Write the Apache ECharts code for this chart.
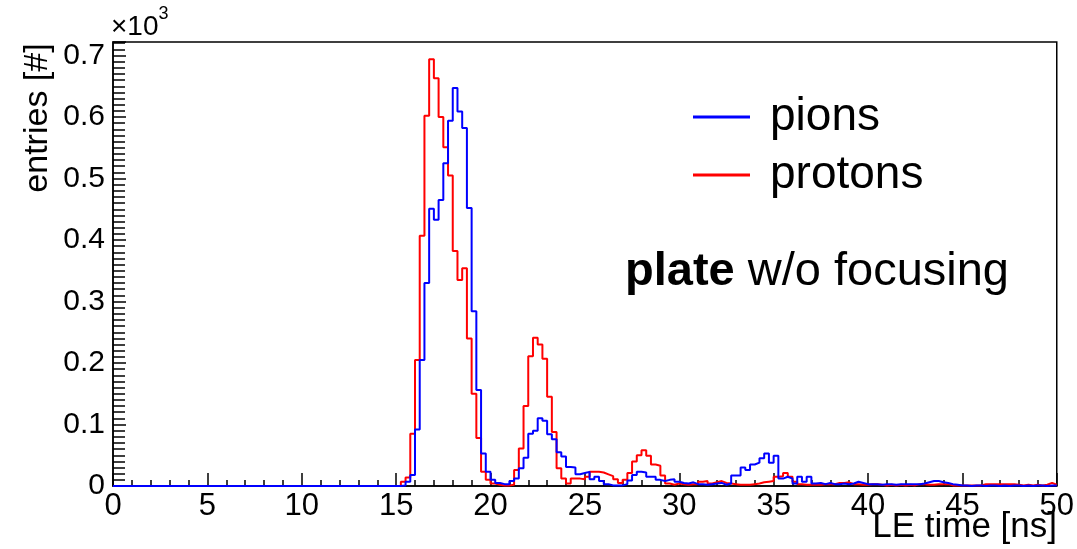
<!DOCTYPE html>
<html>
<head>
<meta charset="utf-8">
<script src="https://cdn.jsdelivr.net/npm/echarts@6/dist/echarts.min.js"></script>
<style>
html,body{margin:0;padding:0;background:#fff;}
#chart{width:1077px;height:549px;}
</style>
</head>
<body>
<div id="chart"></div>
<script>
// histogram binning: 200 bins of 0.25 ns from 0 to 50 ns
const binWidth = 0.25;
const xMin = 0;
const xMax = 50;
const yMax = 722;
const seriesNames = ['pions', 'protons'];
const xTickLabels = ['0','5','10','15','20','25','30','35','40','45','50'];
const yTickLabels = ['0','0.1','0.2','0.3','0.4','0.5','0.6','0.7'];

// entries per bin (pions)
const pions = [
  0,0,0,0,0,0,0,0,0,0,0,0,0,0,0,0,0,0,0,0,
  0,0,0,0,0,0,0,0,0,0,0,0,0,0,0,0,0,0,0,0,
  0,0,0,0,0,0,0,0,0,0,0,0,0,0,0,0,0,0,0,0,
  0,1,7,18,92,205,330,451,433,465,525,594,647,609,582,452,284,156,53,23,
  10,5,3,3,8,12,29,46,85,90,110,106,84,76,55,48,31,30,19,21,
  23,11,15,8,3,1,1,1,3,9,18,23,22,15,15,10,8,10,11,7,
  5,4,6,3,3,2,3,4,5,2,4,17,17,30,26,35,38,45,53,38,
  49,12,15,12,4,15,7,15,4,5,3,5,3,3,4,3,4,7,5,3,
  3,3,2,3,3,2,3,3,3,3,3,4,6,8,8,6,5,3,2,1,
  1,0,1,1,0,1,1,0,1,0,1,1,0,1,0,1,1,0,1,1
];
// entries per bin (protons)
const protons = [
  0,0,0,0,0,0,0,0,0,0,0,0,0,0,0,0,0,0,0,0,
  0,0,0,0,0,0,0,0,0,0,0,0,0,0,0,0,0,0,0,0,
  0,0,0,0,0,0,0,0,0,0,0,0,0,0,0,0,0,0,0,0,
  0,7,14,85,205,407,602,694,663,600,551,505,382,335,354,240,150,78,23,10,
  4,2,1,1,2,26,61,130,211,241,230,207,145,88,29,12,4,12,12,11,
  15,23,23,22,19,16,11,5,10,21,40,50,58,49,35,33,17,4,2,4,
  3,2,3,3,7,8,4,6,8,5,4,3,2,2,2,3,4,6,7,8,
  15,16,21,15,7,3,2,2,2,2,3,3,3,5,5,6,3,3,2,2,
  3,3,2,1,2,1,2,1,2,1,3,3,2,2,3,3,3,1,1,1,
  1,1,1,1,3,3,3,3,3,3,3,2,1,2,1,2,1,2,5,2
];

function toSteps(vals) {
  const pts = vals.map((v, i) => [xMin + i * binWidth, v]);
  pts.push([xMax, vals[vals.length - 1]]);
  return pts;
}

const FONT = 'Liberation Sans';
const chart = echarts.init(document.getElementById('chart'), null, {renderer: 'canvas'});
chart.setOption({
  animation: false,
  backgroundColor: '#fff',
  grid: {left: 113, right: 20, top: 42, bottom: 63, show: true, borderColor: '#000', borderWidth: 1.5, backgroundColor: 'transparent'},
  xAxis: {
    type: 'value', min: xMin, max: xMax, interval: 5,
    axisLine: {show: true, onZero: false, lineStyle: {color: '#000', width: 1.5}},
    axisTick: {show: true, inside: true, length: 13, lineStyle: {color: '#000', width: 1.5}},
    minorTick: {show: true, splitNumber: 5, length: 6, lineStyle: {color: '#000', width: 1.5}},
    splitLine: {show: false},
    axisLabel: {margin: 5, color: '#000', fontFamily: FONT, fontSize: 31,
      formatter: v => xTickLabels[Math.round(v / 5)] ?? ''}
  },
  yAxis: {
    type: 'value', min: 0, max: yMax, interval: 100,
    axisLine: {show: true, lineStyle: {color: '#000', width: 1.5}},
    axisTick: {show: true, inside: true, length: 13, lineStyle: {color: '#000', width: 1.5}},
    minorTick: {show: true, splitNumber: 10, length: 12, lineStyle: {color: '#000', width: 1.5}},
    splitLine: {show: false},
    axisLabel: {margin: 8, color: '#000', fontFamily: FONT, fontSize: 30,
      formatter: v => (v % 100 === 0 && v / 100 < yTickLabels.length) ? yTickLabels[v / 100] : ''}
  },
  legend: {
    data: seriesNames, orient: 'vertical', left: 688, top: 89,
    icon: 'rect', itemWidth: 57, itemHeight: 3, itemGap: 12,
    textStyle: {fontFamily: FONT, fontSize: 46, lineHeight: 46, color: '#000', padding: [0,0,0,15]}
  },
  graphic: [
    {type: 'text', right: 20, top: 510, style: {text: 'LE time [ns]', font: '35px "Liberation Sans"', fill: '#000'}},
    {type: 'text', x: 38, y: 118, rotation: Math.PI / 2, style: {text: 'entries [#]', font: '34px "Liberation Sans"', fill: '#000', textAlign: 'center', textVerticalAlign: 'middle'}},
    {type: 'text', left: 111, top: 5, style: {
      text: '{a|×10}{b|3}', rich: {a: {fontFamily: FONT, fontSize: 28, fill: '#000', padding: [8,0,0,0]}, b: {fontFamily: FONT, fontSize: 18, fill: '#000', verticalAlign: 'top'}}}},
    {type: 'text', left: 625, top: 249, style: {
      text: '{b|plate}{n| w/o focusing}', rich: {b: {fontFamily: FONT, fontSize: 47, fontWeight: 'bold', fill: '#000'}, n: {fontFamily: FONT, fontSize: 47, fill: '#000'}}}}
  ],
  series: [
    {name: 'protons', type: 'line', step: 'end', showSymbol: false, data: toSteps(protons), color: '#ff0000', lineStyle: {color: '#ff0000', width: 2}, z: 2},
    {name: 'pions', type: 'line', step: 'end', showSymbol: false, data: toSteps(pions), color: '#0000ff', lineStyle: {color: '#0000ff', width: 2}, z: 3}
  ]
});
</script>
</body>
</html>
